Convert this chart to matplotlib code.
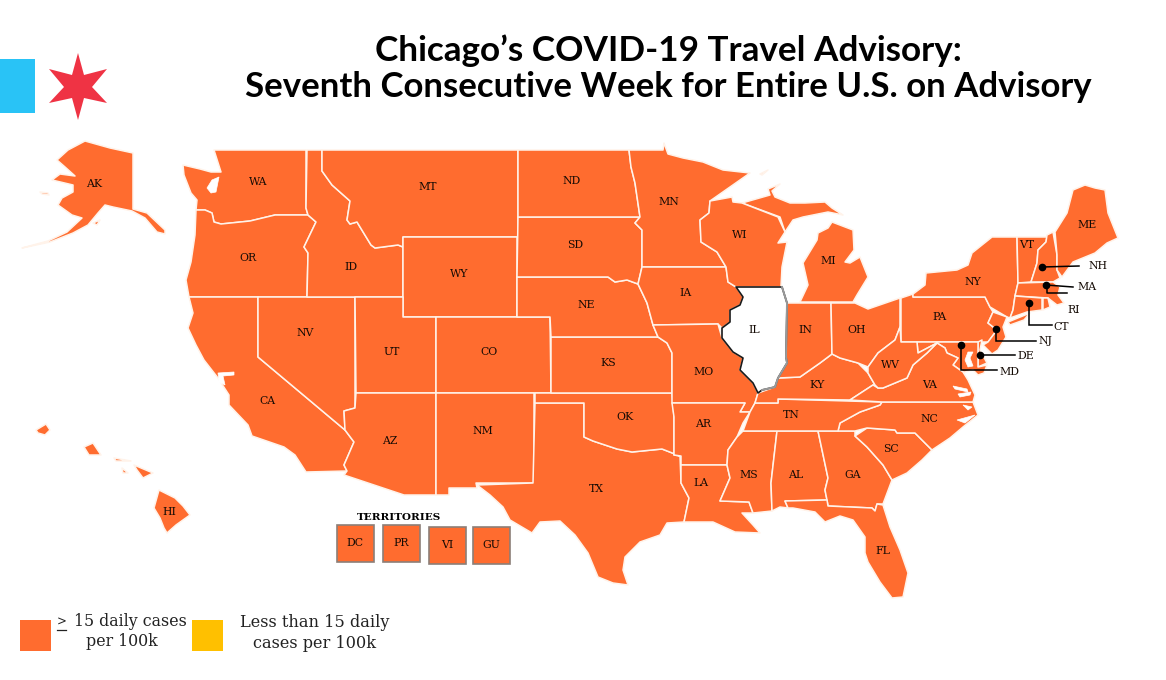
import matplotlib
matplotlib.use('Agg')
import matplotlib.pyplot as plt
from matplotlib.patches import Polygon, Rectangle

ORANGE = '#FF6C2F'
YELLOW = '#FFC000'
SERIF = 'DejaVu Serif'

# outlines, in image pixels
WA = [(214, 150), (306, 150), (306, 208), (308, 215), (275, 215), (250, 221), (221, 224), (214, 222), (212, 213),
      (205, 210), (196, 210), (197, 200), (191, 193), (184, 175), (183, 165), (200, 169), (211, 172), (221, 172)]
OR = [(196, 210), (205, 210), (212, 213), (214, 222), (221, 224), (250, 221), (275, 215), (308, 215), (316, 222),
      (304, 247), (308, 253), (307, 297), (189, 297), (186, 280), (191, 262), (195, 235)]
CA = [(189, 297), (258, 297), (258, 357), (345, 430), (354, 442), (344, 465), (347, 471), (306, 472), (295, 455),
      (284, 447), (252, 436), (248, 425), (229, 405), (229, 395), (218, 378), (204, 360), (196, 345), (188, 328),
      (193, 313)]
NV = [(258, 297), (355, 297), (355, 408), (344, 411), (345, 430), (258, 357)]
ID = [(307, 150), (322, 150), (322, 171), (332, 185), (350, 201), (347, 220), (350, 224), (357, 222), (371, 245),
      (375, 248), (398, 245), (403, 247), (403, 297), (307, 297), (308, 253), (304, 247), (316, 222), (308, 215),
      (306, 208)]
MT = [(322, 150), (518, 150), (518, 237), (403, 237), (403, 247), (398, 245), (375, 248), (371, 245), (357, 222),
      (350, 224), (347, 220), (350, 201), (332, 185), (322, 171)]
WY = [(403, 237), (517, 237), (517, 317), (403, 317)]
UT = [(355, 297), (403, 297), (403, 317), (436, 317), (436, 393), (356, 393)]
CO = [(436, 317), (550, 317), (551, 393), (436, 393)]
AZ = [(356, 393), (436, 393), (436, 495), (404, 495), (344, 475), (347, 471), (344, 465), (354, 442), (345, 430),
      (344, 411), (355, 408)]
NM = [(436, 393), (534, 393), (534, 483), (476, 483), (477, 488), (449, 488), (449, 495), (436, 495)]
TX = [(535, 403), (584, 403), (584, 437), (593, 441), (617, 449), (632, 452), (662, 449), (680, 456), (681, 483),
      (689, 498), (684, 522), (667, 523), (660, 535), (640, 542), (625, 557), (623, 570), (628, 585), (613, 583),
      (598, 577), (588, 553), (575, 535), (560, 521), (540, 522), (532, 533), (510, 520), (503, 507), (490, 495),
      (477, 485), (533, 483)]
OK = [(535, 393), (672, 393), (674, 417), (674, 455), (680, 456), (662, 449), (632, 452), (617, 449), (593, 441),
      (584, 437), (584, 403), (535, 403)]
KS = [(551, 337), (658, 337), (667, 343), (672, 353), (672, 393), (551, 393)]
NE = [(517, 277), (608, 277), (615, 282), (627, 280), (638, 284), (647, 303), (653, 325), (658, 337), (551, 337),
      (550, 317), (517, 317)]
SD = [(518, 217), (640, 217), (635, 223), (642, 230), (642, 267), (638, 284), (627, 280), (615, 282), (608, 277),
      (517, 277)]
ND = [(518, 150), (629, 150), (631, 167), (635, 183), (640, 217), (518, 217)]
MN = [(629, 150), (663, 150), (664, 143), (668, 154), (683, 158), (703, 162), (723, 170), (750, 173), (710, 201),
      (709, 213), (700, 220), (701, 242), (717, 252), (726, 267), (642, 267), (642, 230), (635, 223), (640, 217),
      (635, 183), (631, 167)]
IA = [(642, 267), (726, 267), (728, 282), (736, 287), (743, 297), (740, 305), (730, 310), (730, 322), (722, 328),
      (718, 324), (653, 325), (647, 303), (638, 284)]
MO = [(653, 325), (718, 324), (722, 338), (733, 352), (743, 358), (740, 370), (753, 383), (758, 393), (755, 403),
      (750, 412), (740, 412), (745, 403), (672, 403), (672, 353), (667, 343), (658, 337)]
AR = [(672, 403), (745, 403), (740, 412), (750, 412), (743, 423), (737, 437), (728, 450), (727, 465), (681, 465),
      (681, 456), (674, 455), (674, 417)]
LA = [(681, 465), (727, 465), (730, 478), (720, 501), (749, 502), (753, 513), (742, 513), (753, 525), (760, 533),
      (735, 532), (713, 522), (684, 522), (689, 498), (681, 483)]
MS = [(743, 431), (777, 431), (771, 483), (772, 511), (753, 513), (749, 502), (720, 501), (730, 478), (727, 465),
      (728, 450), (737, 437)]
AL = [(777, 431), (818, 431), (828, 478), (825, 490), (827, 500), (785, 501), (788, 508), (780, 507), (772, 511),
      (771, 483)]
GA = [(818, 431), (855, 431), (855, 436), (867, 447), (883, 465), (892, 480), (883, 504), (877, 504), (875, 511),
      (872, 508), (828, 506), (827, 500), (825, 490), (828, 478)]
FL = [(785, 501), (827, 500), (828, 506), (872, 508), (875, 511), (877, 504), (883, 505), (890, 527), (900, 550),
      (908, 573), (903, 597), (892, 598), (880, 582), (868, 562), (865, 553), (865, 537), (853, 520), (840, 516),
      (825, 522), (815, 512), (793, 508), (788, 508)]
SC = [(855, 436), (867, 428), (895, 430), (897, 433), (915, 433), (932, 450), (922, 460), (907, 473), (892, 480),
      (883, 465), (867, 447)]
NC = [(882, 402), (973, 402), (978, 415), (963, 427), (950, 438), (932, 450), (915, 433), (897, 433), (895, 430),
      (867, 428), (855, 431), (838, 431), (840, 423), (860, 412), (880, 405)]
TN = [(755, 403), (778, 403), (778, 399), (882, 402), (880, 405), (860, 412), (840, 423), (838, 431), (743, 431),
      (750, 412)]
KY = [(778, 378), (800, 377), (820, 363), (832, 354), (840, 358), (858, 363), (868, 373), (875, 385), (873, 385),
      (850, 400), (778, 399), (778, 403), (755, 403), (758, 393), (775, 387)]
IL = [(736, 287), (782, 287), (787, 303), (786, 357), (787, 363), (778, 378), (775, 387), (762, 390), (758, 393),
      (753, 383), (740, 370), (743, 358), (733, 352), (722, 338), (722, 328), (730, 322), (730, 310), (740, 305),
      (743, 297)]
IN = [(787, 303), (831, 303), (832, 354), (820, 363), (800, 377), (778, 378), (787, 363), (786, 357)]
OH = [(831, 303), (855, 303), (868, 309), (900, 298), (900, 327), (895, 340), (878, 353), (868, 367), (858, 363),
      (840, 358), (832, 354)]
MI_LOWER = [(800, 302), (853, 302), (857, 295), (868, 277), (860, 257), (850, 263), (845, 262), (854, 250),
            (853, 230), (832, 222), (828, 228), (818, 233), (817, 240), (803, 263), (808, 285)]
MI_UPPER = [(742, 203), (770, 195), (768, 189), (780, 184), (772, 191), (775, 197), (790, 203), (805, 203),
            (825, 202), (832, 208), (843, 215), (828, 212), (803, 217), (793, 220), (785, 232), (780, 217)]
ISLE_ROYALE = [(760, 174), (768, 170), (762, 175)]
WI = [(710, 201), (732, 197), (733, 202), (742, 203), (778, 217), (785, 232), (778, 243), (787, 242), (782, 267),
      (781, 287), (736, 287), (728, 282), (726, 267), (717, 252), (701, 242), (700, 220), (709, 213)]
PA = [(901, 298), (913, 294), (913, 297), (985, 297), (990, 307), (993, 312), (988, 323), (997, 330), (988, 342),
      (901, 342)]
NY = [(913, 297), (913, 294), (925, 285), (926, 273), (957, 270), (968, 265), (972, 253), (992, 237), (1017, 237),
      (1018, 283), (1015, 296), (1013, 310), (1010, 318), (1007, 317), (990, 307), (985, 297)]
LONG_ISLAND = [(1008, 322), (1030, 313), (1024, 320), (1010, 325)]
VT = [(1017, 237), (1047, 237), (1046, 242), (1038, 250), (1037, 263), (1031, 282), (1018, 283)]
NH = [(1047, 235), (1053, 232), (1057, 255), (1057, 270), (1060, 278), (1053, 282), (1031, 282), (1037, 263),
      (1038, 250), (1046, 242)]
ME = [(1055, 232), (1067, 213), (1073, 190), (1085, 185), (1095, 188), (1105, 190), (1108, 213), (1118, 238),
      (1107, 243), (1095, 253), (1073, 262), (1062, 277), (1057, 270), (1057, 255)]
MA = [(1018, 283), (1053, 282), (1060, 287), (1058, 295), (1064, 303), (1057, 305), (1048, 298), (1015, 296)]
CT = [(1015, 296), (1042, 298), (1042, 310), (1027, 312), (1010, 318), (1013, 310)]
RI = [(1043, 298), (1048, 298), (1050, 307), (1043, 310)]
NJ = [(993, 312), (1007, 317), (1003, 327), (1006, 337), (998, 350), (992, 354), (983, 345), (988, 342), (997, 330),
      (988, 323)]
DE = [(978, 342), (982, 340), (980, 350), (987, 363), (978, 367)]
MD = [(917, 342), (978, 342), (978, 367), (987, 365), (984, 373), (978, 375), (973, 370), (965, 372), (963, 372),
      (953, 365), (958, 358), (947, 353), (945, 348), (937, 343), (918, 353)]
VA = [(850, 400), (873, 385), (878, 388), (883, 388), (907, 378), (913, 365), (927, 353), (937, 343), (945, 348),
      (947, 353), (958, 358), (953, 365), (963, 372), (968, 380), (975, 395), (973, 402), (882, 402)]
WV = [(900, 327), (901, 342), (917, 342), (918, 353), (937, 343), (927, 353), (913, 365), (907, 378), (883, 388),
      (878, 388), (875, 385), (868, 373), (868, 367), (878, 353), (895, 340)]
AK = [(85, 141), (110, 148), (133, 153), (133, 209), (147, 213), (165, 230), (165, 234), (157, 232), (145, 218),
      (132, 211), (113, 207), (105, 205), (98, 213), (88, 225), (73, 233), (50, 242), (22, 248), (48, 241), (67, 232),
      (82, 218), (72, 215), (58, 205), (62, 198), (73, 192), (73, 185), (52, 180), (60, 174), (75, 176), (65, 167),
      (57, 160), (68, 150)]
AK_NUNIVAK = [(40, 192), (48, 193), (49, 195), (42, 194)]
AK_KODIAK = [(93, 223), (100, 220), (97, 225)]
HI_BIG = [(159, 490), (175, 498), (183, 506), (190, 515), (176, 525), (167, 533), (164, 528), (160, 518), (154, 508)]
HI_MAUI = [(134, 465), (153, 473), (143, 478), (137, 470)]
HI_MOLOKAI = [(114, 458), (131, 461), (116, 461)]
HI_LANAI = [(122, 468), (128, 473), (123, 473)]
HI_OAHU = [(84, 447), (93, 443), (101, 455), (89, 455)]
HI_KAUAI = [(36, 430), (46, 424), (50, 430), (45, 435), (38, 433)]

# water cut out of the states
PUGET = [(207, 188), (212, 180), (219, 177), (216, 192), (211, 193)]
CHESAPEAKE = [(968, 352), (973, 352), (970, 358), (973, 366), (968, 367), (965, 360)]
SANTA_BARBARA = [(218, 373), (234, 372), (234, 375), (223, 376), (225, 385), (219, 382)]
VA_SLIT_1 = [(953, 386), (967, 389), (968, 392), (955, 389)]
VA_SLIT_2 = [(958, 394), (971, 392), (970, 395), (960, 397)]
NC_SOUND_1 = [(963, 405), (972, 407), (968, 410)]
NC_SOUND_2 = [(957, 420), (975, 415), (965, 423)]

ORANGE_SHAPES = [WA, OR, CA, NV, ID, MT, WY, UT, CO, AZ, NM, TX, OK, KS, NE, SD, ND, MN, IA, MO, AR, LA, MS, AL, GA,
                 FL, SC, NC, TN, KY, IN, OH, MI_LOWER, MI_UPPER, ISLE_ROYALE, WI, PA, NY, LONG_ISLAND, VT, NH, ME, MA,
                 CT, RI, NJ, DE, MD, VA, WV, AK, AK_NUNIVAK, AK_KODIAK, HI_BIG, HI_MAUI, HI_MOLOKAI, HI_LANAI, HI_OAHU,
                 HI_KAUAI]
WATER_SHAPES = [PUGET, CHESAPEAKE, SANTA_BARBARA, VA_SLIT_1, VA_SLIT_2, NC_SOUND_1, NC_SOUND_2]

STATE_CODES = ['AK', 'WA', 'MT', 'ND', 'MN', 'OR', 'ID', 'WY', 'SD', 'WI', 'MI', 'NE', 'IA', 'NV', 'UT', 'CO', 'KS',
               'MO', 'IL', 'IN', 'OH', 'PA', 'NY', 'VT', 'ME', 'CA', 'AZ', 'NM', 'OK', 'AR', 'TN', 'KY', 'WV', 'VA',
               'NC', 'SC', 'GA', 'AL', 'MS', 'LA', 'TX', 'FL', 'HI']
STATE_X = [94, 258, 428, 572, 669, 248, 351, 459, 575, 740, 828, 586, 686, 305, 392, 489, 608, 704, 754, 805, 857,
           940, 973, 1027, 1087, 267, 390, 483, 625, 703, 791, 817, 890, 930, 929, 891, 853, 796, 749, 701, 596, 883,
           169]
STATE_Y = [184, 182, 187, 181, 202, 258, 267, 274, 245, 235, 261, 305, 293, 333, 352, 352, 363, 372, 330, 330, 330,
           317, 282, 245, 225, 401, 441, 431, 417, 424, 415, 385, 365, 385, 419, 449, 475, 475, 475, 483, 489, 551,
           512]

TERRITORIES = ['DC', 'PR', 'VI', 'GU']
TERRITORY_LEFT = [337, 383, 429, 473]
TERRITORY_TOP = [525, 525, 527, 527]

# small eastern states: name, label position, dot, then the leader line
CALLOUT_NAMES = ['NH', 'MA', 'CT', 'NJ', 'DE', 'MD']
CALLOUT_LABELS = [(1098, 266), (1087, 287), (1061, 327), (1045, 341), (1026, 356), (1009, 372)]
CALLOUT_LINES = [[(1042, 267), (1079, 266)],
                 [(1046, 285), (1073, 287)],
                 [(1029, 303), (1029, 325), (1052, 325)],
                 [(996, 329), (996, 341), (1036, 341)],
                 [(980, 355), (1015, 355)],
                 [(961, 345), (961, 370), (997, 370)]]

STAR = [(78, 53), (84, 75), (107, 69), (92, 87), (107, 103), (84, 98), (78, 120), (72, 98), (49, 103), (64, 87),
        (49, 69), (72, 75)]

fig = plt.figure(figsize=(11.66, 6.8), dpi=100)
ax = fig.add_axes([0, 0, 1, 1])
ax.set_xlim(0, 1166)
ax.set_ylim(680, 0)
ax.axis('off')

for shape in ORANGE_SHAPES:
    ax.add_patch(Polygon(shape, closed=True, facecolor=ORANGE, edgecolor='#FFF3EA', linewidth=1.1, joinstyle='round'))
for shape in WATER_SHAPES:
    ax.add_patch(Polygon(shape, closed=True, facecolor='white', edgecolor='white', linewidth=0.5))

# Illinois is the only state off the advisory
ax.add_patch(Polygon(IL, closed=True, facecolor='white', edgecolor='#1A1A1A', linewidth=1.2, joinstyle='round'))
ax.plot([782, 787, 786, 787, 778, 775, 762], [287, 303, 357, 363, 378, 387, 390], color='#999999', lw=1.4)

for code, x, y in zip(STATE_CODES, STATE_X, STATE_Y):
    ax.text(x, y, code, family=SERIF, fontsize=7.8, ha='center', va='center', color='#140A04')

ax.text(399, 517, 'TERRITORIES', family=SERIF, fontsize=7.5, fontweight='bold', ha='center', va='center', color='black')
for code, left, top in zip(TERRITORIES, TERRITORY_LEFT, TERRITORY_TOP):
    ax.add_patch(Rectangle((left, top), 37, 37, facecolor=ORANGE, edgecolor='#8C7F78', linewidth=1.2))
    ax.text(left + 18, top + 18, code, family=SERIF, fontsize=7.8, ha='center', va='center', color='#140A04')

for name, pos, line in zip(CALLOUT_NAMES, CALLOUT_LABELS, CALLOUT_LINES):
    ax.plot([p[0] for p in line], [p[1] for p in line], color='black', lw=1.1, solid_joinstyle='miter')
    ax.plot(line[0][0], line[0][1], 'o', color='black', ms=4.5)
    ax.text(pos[0], pos[1], name, family=SERIF, fontsize=7.8, ha='center', va='center', color='#140A04')
# RI has a leader that stops short of its label
ax.plot([1047, 1047, 1067], [285, 293, 293], color='black', lw=1.1)
ax.text(1074, 310, 'RI', family=SERIF, fontsize=7.8, ha='center', va='center', color='#140A04')

# legend
ax.add_patch(Rectangle((20, 620), 31, 31, facecolor=ORANGE, edgecolor='none'))
ax.add_patch(Rectangle((192, 620), 31, 31, facecolor=YELLOW, edgecolor='none'))
ax.text(61.5, 622, '>', family=SERIF, fontsize=8.5, ha='center', va='center', color='#222222')
ax.plot([57, 66], [629.5, 629.5], color='#222222', lw=0.9)
ax.text(130, 622, '15 daily cases', family=SERIF, fontsize=11.4, ha='center', va='center', color='#222222')
ax.text(122, 642, 'per 100k', family=SERIF, fontsize=11.4, ha='center', va='center', color='#222222')
ax.text(315, 622.5, 'Less than 15 daily', family=SERIF, fontsize=11.6, ha='center', va='center', color='#222222')
ax.text(315, 643, 'cases per 100k', family=SERIF, fontsize=11.6, ha='center', va='center', color='#222222')

# logo
ax.add_patch(Rectangle((0, 59), 35, 54, facecolor='#29C3F6', edgecolor='none'))
ax.add_patch(Polygon(STAR, closed=True, facecolor='#EF3344', edgecolor='none'))

ax.text(668, 51, 'Chicago\u2019s COVID-19 Travel Advisory:', family='Lato', fontsize=25.3, fontweight='bold', ha='center',
        va='center', color='black')
ax.text(668, 87, 'Seventh Consecutive Week for Entire U.S. on Advisory', family='Lato', fontsize=25, fontweight='bold',
        ha='center', va='center', color='black')

fig.savefig('out.png', dpi=100)
